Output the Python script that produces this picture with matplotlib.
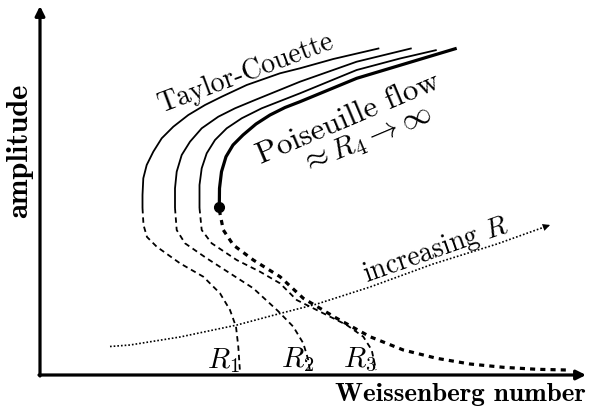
import numpy as np
import matplotlib
matplotlib.use("Agg")
import matplotlib.pyplot as plt

plt.rcParams['mathtext.fontset'] = 'cm'
plt.rcParams['axes.unicode_minus'] = False

# schematic curves, read off the picture (pixel units, y measured from top)
# upper (stable, solid) branches
up1_x = [142.5, 142.5, 143.3, 146.7, 153.3, 161.7, 173.3, 188.3, 205.0, 221.7, 246.7, 280.0, 300.0, 333.3, 379.3]
up1_y = [208.0, 195.0, 178.3, 165.0, 151.7, 138.3, 126.7, 115.0, 105.0, 96.7, 85.0, 73.3, 68.3, 59.0, 48.3]
up2_x = [175.0, 175.0, 176.7, 181.7, 190.0, 201.7, 218.3, 235.0, 255.0, 300.0, 356.7, 411.7]
up2_y = [208.0, 188.3, 171.7, 155.0, 141.7, 128.3, 116.7, 108.3, 100.0, 81.7, 61.7, 48.3]
up3_x = [199.5, 199.5, 201.7, 206.7, 215.0, 226.7, 241.7, 261.7, 300.0, 356.7, 400.0, 436.7]
up3_y = [208.0, 185.0, 168.3, 153.3, 140.0, 128.3, 118.3, 108.3, 93.3, 70.0, 58.5, 50.0]
up4_x = [219.3, 219.5, 221.5, 226.0, 233.0, 243.0, 256.0, 270.0, 285.0, 300.0, 356.7, 423.3, 456.7]
up4_y = [206.7, 188.3, 171.7, 156.7, 145.0, 135.0, 124.0, 115.0, 107.5, 101.7, 78.3, 58.3, 48.3]

# lower (unstable, dashed) branches
lo1_x = [142.5, 143.5, 147.0, 156.7, 180.0, 203.3, 220.0, 230.0, 236.0, 238.3, 240.0]
lo1_y = [208.0, 225.0, 237.0, 246.7, 263.3, 276.7, 293.3, 310.0, 326.7, 346.7, 372.0]
lo2_x = [175.0, 176.7, 185.0, 206.7, 230.0, 253.3, 278.0, 293.3, 303.3, 308.3, 310.0]
lo2_y = [208.0, 230.0, 243.3, 258.3, 273.3, 288.3, 311.0, 326.7, 343.3, 360.0, 372.0]
lo3_x = [199.5, 201.7, 211.7, 236.7, 260.0, 280.0, 296.7, 323.3, 346.7, 363.3, 371.7, 376.0]
lo3_y = [208.0, 230.0, 243.3, 260.0, 271.7, 283.3, 300.0, 313.3, 325.0, 336.7, 350.0, 370.0]
lo4_x = [219.3, 223.3, 233.3, 253.3, 280.0, 303.3, 336.7, 370.0, 403.3, 436.7, 470.0, 503.3, 536.7, 566.7]
lo4_y = [210.0, 230.0, 245.0, 260.0, 276.7, 298.3, 318.3, 336.7, 350.0, 358.3, 364.0, 367.3, 369.3, 370.0]

# "increasing R" guide line
incr_x = [110.0, 130.0, 180.0, 237.0, 280.0, 317.0, 370.0, 433.0, 497.0, 550.0]
incr_y = [346.5, 345.0, 337.0, 325.0, 313.5, 304.0, 287.0, 264.0, 244.0, 225.0]

# R labels (left edge, baseline)
r_labels = [r'$R_1$', r'$R_2$', r'$R_3$']
r_label_x = [207, 281, 343]
r_label_y = [368, 367, 367]

fig = plt.figure(figsize=(5.95, 4.11), dpi=100)
ax = fig.add_axes([0, 0, 1, 1])
ax.set_xlim(0, 595)
ax.set_ylim(411, 0)
ax.axis('off')

# axes with arrows
arr = dict(arrowstyle='-|>', lw=2.3, color='k', mutation_scale=14, shrinkA=0, shrinkB=0)
ax.annotate('', xy=(40, 6), xytext=(40, 376), arrowprops=arr)
ax.annotate('', xy=(586, 375), xytext=(39, 375), arrowprops=arr)

# branches
for ux, uy in [(up1_x, up1_y), (up2_x, up2_y), (up3_x, up3_y)]:
    ax.plot(ux, uy, color='k', lw=1.3, solid_capstyle='butt', solid_joinstyle='round')
ax.plot(up4_x, up4_y, color='k', lw=2.3, solid_capstyle='butt', solid_joinstyle='round')

for lx, ly in [(lo1_x, lo1_y), (lo2_x, lo2_y), (lo3_x, lo3_y)]:
    ax.plot(lx, ly, color='k', lw=1.3, dashes=(3, 2.2))
ax.plot(lo4_x, lo4_y, color='k', lw=2.3, dashes=(1.6, 1.6))

ax.plot(up4_x[0], up4_y[0], 'o', color='k', ms=7)

# increasing R
ax.plot(incr_x, incr_y, color='k', lw=1.2, linestyle=(0, (1, 1.2)))
ax.annotate('', xy=(incr_x[-1], incr_y[-1]), xytext=(incr_x[-2], incr_y[-2]),
            arrowprops=dict(arrowstyle='-|>', lw=0, color='k', mutation_scale=13,
                            shrinkA=0, shrinkB=0))

# text
txt = dict(ha='center', rotation_mode='anchor')
ax.text(249, 80, 'Taylor-Couette', family='cmr10', fontsize=20, rotation=20.5,
        va='baseline', **txt)
ax.text(351, 126, 'Poiseuille flow', family='cmr10', fontsize=22.5, rotation=23,
        va='baseline', **txt)
ax.text(366, 140, r'$\approx R_4 \rightarrow \infty$', fontsize=21.5, rotation=23,
        va='center', **txt)
ax.text(438, 257, r'increasing $R$', family='cmr10', fontsize=20, rotation=19.5,
        va='baseline', **txt)
for lab, lx, ly in zip(r_labels, r_label_x, r_label_y):
    ax.text(lx, ly, lab, fontsize=21, ha='left', va='baseline')

ax.text(20, 151, 'amplitude', family='cmb10', fontsize=22, rotation=90,
        ha='center', va='center')
ax.text(460, 401, 'Weissenberg number', family='cmb10', fontsize=19.5,
        ha='center', va='baseline')

plt.savefig('out.png', dpi=100)
